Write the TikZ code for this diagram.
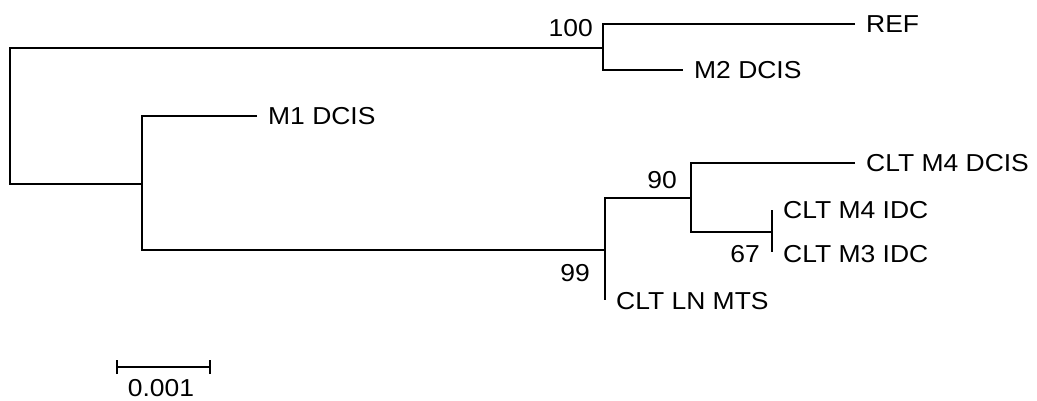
\documentclass[tikz,border=0pt]{standalone}
\usepackage{fontspec}
\setmainfont{Liberation Sans}[FakeStretch=1.08]
\begin{document}
\begin{tikzpicture}[x=1pt,y=-1pt,
  br/.style={line width=1.9pt},
  thinbr/.style={line width=1.2pt},
  leaf/.style={anchor=west,inner xsep=11pt,inner ysep=0pt,font=\fontsize{24.5}{28}\selectfont},
  boot/.style={anchor=east,inner sep=0pt,font=\fontsize{24.5}{28}\selectfont}]
\useasboundingbox (0,0) rectangle (1037,401);
% internal nodes
\coordinate (r) at (10,116);
\coordinate (nA) at (603,48);
\coordinate (nB) at (142,184);
\coordinate (nC) at (605,250);
\coordinate (nD) at (691,198);
\coordinate (nE) at (772,232);
% leaves
\node[leaf] (ref) at (855,24) {REF};
\node[leaf] (m2) at (683,70) {M2 DCIS};
\node[leaf] (m1) at (257,116) {M1 DCIS};
\node[leaf] (m4d) at (855,163) {CLT M4 DCIS};
\node[leaf] (m4i) at (772,210) {CLT M4 IDC};
\node[leaf] (m3i) at (772,254) {CLT M3 IDC};
\node[leaf] (ln) at (605,301) {CLT LN MTS};
% bootstrap values
\node[boot] (b100) at (593,28) {100};
\node[boot] (b90) at (677,180) {90};
\node[boot] (b67) at (760,254) {67};
\node[boot] (b99) at (590,273) {99};
% branches
\draw[br] (nA) -| (r) |- (nB);
\draw[br] (ref.west) -| (nA) |- (m2.west);
\draw[br] (m1.west) -| (nB) |- (nC);
\draw[br] (nD) -| (nC) |- ([yshift=1pt]ln.west);
\draw[thinbr] (m4d.west) -| (nD) |- (nE);
\draw[thinbr] ([yshift=-0.5pt]m4i.west) -- ([yshift=2pt]m3i.west);
% scale bar
\coordinate (s1) at (117,367);
\coordinate (s2) at (210,367);
\draw[br] (s1) -- (s2);
\draw[br] ([yshift=-7pt]s1) -- ([yshift=7pt]s1);
\draw[br] ([yshift=-7pt]s2) -- ([yshift=7pt]s2);
\node[inner sep=0pt,font=\fontsize{24.5}{28}\selectfont] (sl) at (161,388) {0.001};
\end{tikzpicture}
\end{document}
